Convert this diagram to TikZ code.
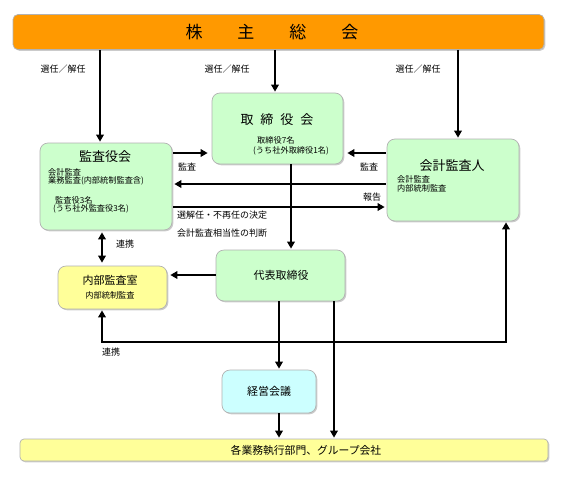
\documentclass[tikz,border=0pt]{standalone}
\usepackage{fontspec}
\setmainfont{Noto Sans CJK JP}
\usetikzlibrary{arrows.meta,shadows}
\definecolor{orangebar}{HTML}{FF9900}
\definecolor{vertclair}{HTML}{CCFFCC}
\definecolor{jauneclair}{HTML}{FFFF99}
\definecolor{cyanclair}{HTML}{CCFFFF}
\begin{document}
\begin{tikzpicture}[x=1pt,y=-1pt]
\tikzset{boite/.style={draw=gray!60, line width=0.7pt, rounded corners=8pt, inner sep=0pt,
    drop shadow={shadow xshift=1.3pt, shadow yshift=-1.3pt, fill=gray!80}},
  fleche/.style={line width=2.2pt, shorten >=1pt, -{Triangle[length=7pt,width=7.5pt]}},
  petit/.style={font=\fontsize{8.2}{9}\selectfont, inner sep=0pt},
  etiq/.style={font=\fontsize{9}{10}\selectfont, inner sep=0pt},
  titre/.style={font=\fontsize{13}{15}\selectfont, inner sep=0pt},
  moyen/.style={font=\fontsize{11}{13}\selectfont, inner sep=0pt}}
\fill[white] (0,0) rectangle (567,477);
\useasboundingbox (0,0) rectangle (567,477);
% boites
\node[boite, fill=orangebar, rounded corners=5pt, minimum width=531pt, minimum height=35pt] (soukai) at (278.5,32) {};
\node[boite, fill=vertclair, minimum width=131pt, minimum height=71pt] (torikai) at (277.5,128.5) {};
\node[boite, fill=vertclair, minimum width=132pt, minimum height=87pt] (kansa) at (106,186.5) {};
\node[boite, fill=vertclair, minimum width=132pt, minimum height=82pt] (kaikei) at (453,180) {};
\node[boite, fill=vertclair, minimum width=129pt, minimum height=51pt] (daihyo) at (280.5,275.5) {};
\node[boite, fill=jauneclair, minimum width=109pt, minimum height=43pt] (naibu) at (112.5,287.5) {};
\node[boite, fill=cyanclair, minimum width=94pt, minimum height=43pt] (keiei) at (269,391.5) {};
\node[boite, fill=jauneclair, rounded corners=4pt, minimum width=528pt, minimum height=22pt] (gyomu) at (284,450) {};
% textes
\node[font=\fontsize{17}{19}\selectfont, inner sep=0pt] (tsoukai) at (272,32) {株\hspace{35pt}主\hspace{35pt}総\hspace{35pt}会};
\node[titre] (ttorikai) at (277,120) {取\hspace{7pt}締\hspace{7pt}役\hspace{7pt}会};
\node[petit, anchor=west] (ttori1) at (257,140) {取締役7名};
\node[petit, anchor=west] (ttori2) at (253,151) {(うち社外取締役1名)};
\node[titre] (tkansa) at (105,157) {監査役会};
\node[petit, anchor=west] (tkansa1) at (48,172) {会計監査};
\node[petit, anchor=west] (tkansa2) at (48,181) {業務監査(内部統制監査含)};
\node[petit, anchor=west] (tkansa3) at (55,200) {監査役3名};
\node[petit, anchor=west] (tkansa4) at (53,209) {(うち社外監査役3名)};
\node[titre] (tkaikei) at (452,166) {会計監査人};
\node[petit, anchor=west] (tkaikei1) at (397,179) {会計監査};
\node[petit, anchor=west] (tkaikei2) at (397,188) {内部統制監査};
\node[moyen] (tdaihyo) at (281,275) {代表取締役};
\node[moyen] (tnaibu) at (110,280) {内部監査室};
\node[petit] (tnaibu1) at (110,295) {内部統制監査};
\node[moyen] (tkeiei) at (269,391) {経営会議};
\node[font=\fontsize{10.8}{12}\selectfont, inner sep=0pt] (tgyomu) at (306,450) {各業務執行部門、グループ会社};
% etiquettes
\node[etiq] (l1) at (63,69) {選任／解任};
\node[etiq] (l2) at (227,69) {選任／解任};
\node[etiq] (l3) at (418,69) {選任／解任};
\node[etiq, anchor=west] (l4) at (178,167) {監査};
\node[etiq, anchor=west] (l5) at (360,167) {監査};
\node[etiq, anchor=west] (l6) at (363,197) {報告};
\node[etiq, anchor=west] (l7) at (177,215) {選解任・不再任の決定};
\node[etiq, anchor=west] (l8) at (177,233) {会計監査相当性の判断};
\node[etiq, anchor=west] (l9) at (116,244) {連携};
\node[etiq, anchor=west] (l10) at (102,352) {連携};
% reperes
\coordinate (xa) at (100,0);
\coordinate (xb) at (275,0);
\coordinate (xc) at (458,0);
\coordinate (xd) at (291,0);
\coordinate (xf) at (279,0);
\coordinate (xh) at (334,0);
\coordinate (r1) at (0,153);
\coordinate (r2) at (0,184);
\coordinate (r3) at (0,207);
\coordinate (r4) at (0,275);
\coordinate (b1) at (102,342);
\coordinate (b2) at (506,342);
% fleches
\draw[fleche] (soukai.south -| xa) -- (kansa.north -| xa);
\draw[fleche] (soukai.south -| xb) -- (torikai.north -| xb);
\draw[fleche] (soukai.south -| xc) -- (kaikei.north -| xc);
\draw[fleche, shorten <=1pt, shorten >=4pt] (kansa.east |- r1) -- (torikai.west |- r1);
\draw[fleche, shorten <=1pt, shorten >=4pt] (kaikei.west |- r1) -- (torikai.east |- r1);
\draw[fleche, shorten <=1pt, shorten >=2pt] (kaikei.west |- r2) -- (kansa.east |- r2);
\draw[fleche, shorten <=1pt, shorten >=2pt] (kansa.east |- r3) -- (kaikei.west |- r3);
\draw[fleche] (torikai.south -| xd) -- (daihyo.north -| xd);
\draw[fleche, shorten >=3pt] (daihyo.west |- r4) -- (naibu.east |- r4);
\draw[fleche, {Triangle[length=7pt,width=7.5pt]}-{Triangle[length=7pt,width=7.5pt]}, shorten <=2pt, shorten >=3pt] (kansa.south -| b1) -- (naibu.north -| b1);
\draw[fleche, {Triangle[length=7pt,width=7.5pt]}-{Triangle[length=7pt,width=7.5pt]}, shorten <=1pt] (naibu.south -| b1) -- (b1) -- (b2) -- (kaikei.south -| b2);
\draw[fleche] (daihyo.south -| xf) -- (keiei.north -| xf);
\draw[fleche] (keiei.south -| xf) -- (gyomu.north -| xf);
\draw[fleche] (daihyo.south -| xh) -- (gyomu.north -| xh);
\end{tikzpicture}
\end{document}
